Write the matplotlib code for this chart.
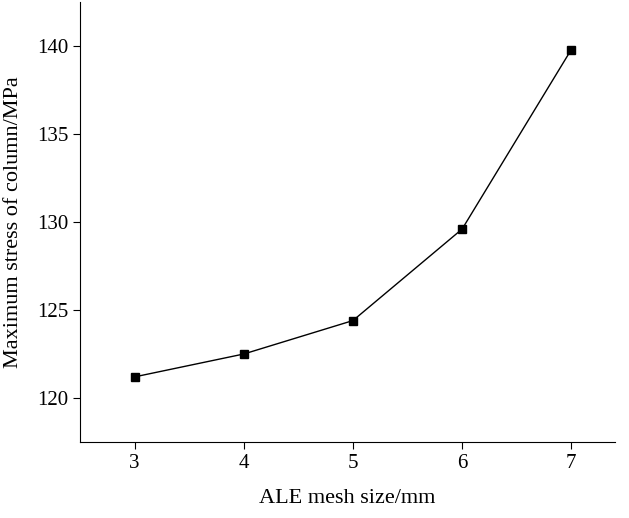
import matplotlib
matplotlib.use("Agg")
import matplotlib.pyplot as plt

mesh = [3, 4, 5, 6, 7]
stress = [121.2, 122.5, 124.4, 129.6, 139.8]
xticks = [3, 4, 5, 6, 7]
yticks = [120, 125, 130, 135, 140]

plt.rcParams["font.family"] = "Liberation Serif"
fig = plt.figure(figsize=(6.29, 5.18), dpi=100)
ax = fig.add_axes([80/629, 1-442/518, 535/629, 440/518])
ax.plot(mesh, stress, color="black", lw=1, marker="s", ms=6)
ax.set_xlim(2.5, 7.4)
ax.set_ylim(117.5, 142.5)
ax.set_xticks(xticks)
ax.set_yticks(yticks)
ax.spines["top"].set_visible(False)
ax.spines["right"].set_visible(False)
ax.tick_params(labelsize=15, direction="out", length=5)
ax.set_xlabel("ALE mesh size/mm", fontsize=16, labelpad=12)
ax.set_ylabel("Maximum stress of column/MPa", fontsize=16, labelpad=10)
fig.savefig("out.png", dpi=100)
